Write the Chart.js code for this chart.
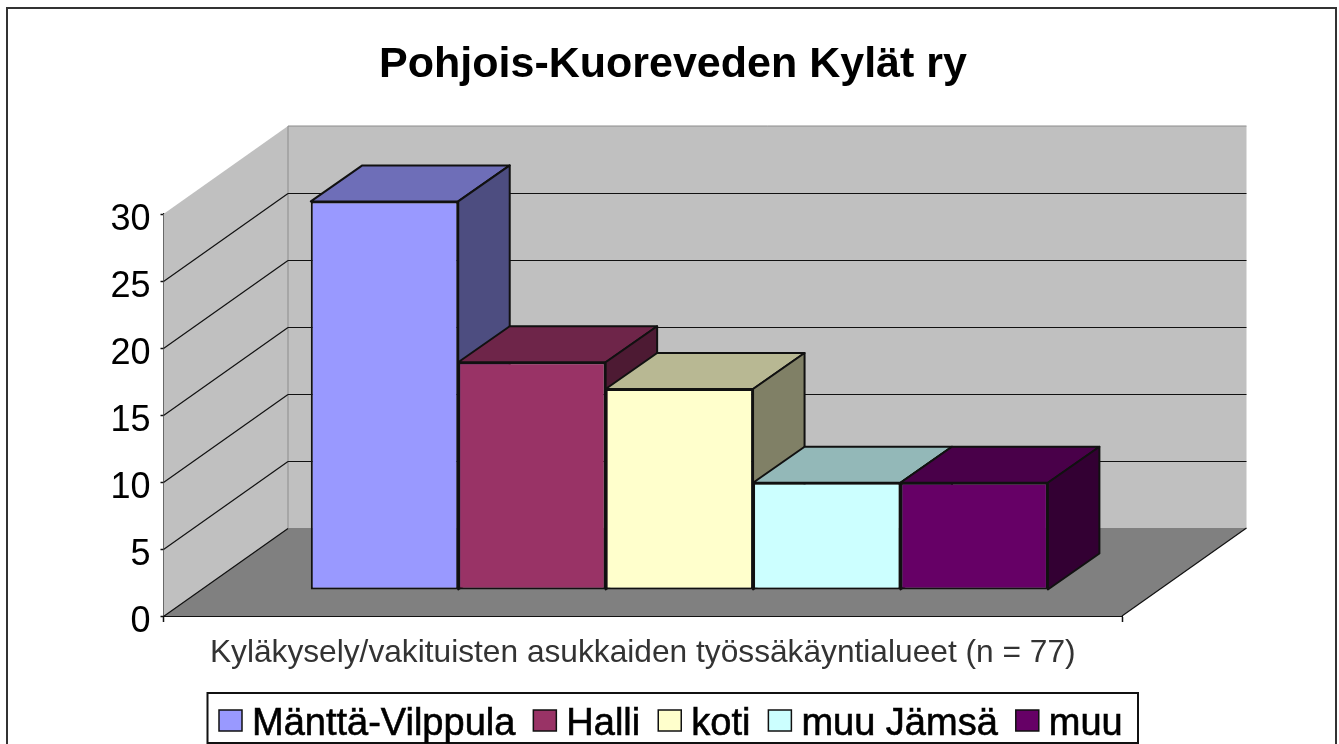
<!DOCTYPE html>
<html lang="fi">
<head>
<meta charset="utf-8">
<title>Pohjois-Kuoreveden Kylät ry</title>
<script src="https://cdn.jsdelivr.net/npm/chart.js@4"></script>
<style>
  html, body { margin: 0; padding: 0; background: #fff; }
  #wrap { position: relative; width: 1339px; height: 744px; }
</style>
</head>
<body>
<div id="wrap"><canvas id="chart"></canvas></div>
<script>
// Arvot luettu kuvasta (yhteensä 77)
const categories = ['Työssäkäyntialue'];
const seriesNames = ['Mänttä-Vilppula', 'Halli', 'koti', 'muu Jämsä', 'muu'];
const seriesValues = [29, 17, 15, 8, 8];
const seriesColors = ['#9999FF', '#993366', '#FFFFCC', '#CCFFFF', '#660066'];
const yTicks = [0, 5, 10, 15, 20, 25, 30];

const titleText = 'Pohjois-Kuoreveden Kylät ry';
const axisText = 'Kyläkysely/vakituisten asukkaiden työssäkäyntialueet (n = 77)';

// 3D-vaikutelma: takaseinän siirtymä ja pylväiden paikka syvyydessä
const DEPTH_X = 124.5, DEPTH_Y = -88;
const BAR_SHIFT_X = 36.6, BAR_SHIFT_Y = -26;
const BAR_DEPTH_X = 51.5, BAR_DEPTH_Y = -36;

function shade(hex, f) {
    const n = parseInt(hex.slice(1), 16);
    const r = Math.round((n >> 16) * f), g = Math.round(((n >> 8) & 255) * f), b = Math.round((n & 255) * f);
    return `rgb(${r},${g},${b})`;
}

function poly(ctx, pts, fill, stroke) {
    ctx.beginPath();
    pts.forEach((p, i) => i ? ctx.lineTo(p[0], p[1]) : ctx.moveTo(p[0], p[1]));
    ctx.closePath();
    if (fill) { ctx.fillStyle = fill; ctx.fill(); }
    if (stroke) { ctx.strokeStyle = stroke; ctx.lineWidth = 2; ctx.lineJoin = 'round'; ctx.stroke(); }
}

function line(ctx, x1, y1, x2, y2) {
    ctx.beginPath();
    ctx.moveTo(x1, y1);
    ctx.lineTo(x2, y2);
    ctx.stroke();
}

const box3d = {
    id: 'box3d',
    beforeDraw(chart) {
        const { ctx, width, height } = chart;
        ctx.save();
        ctx.fillStyle = '#fff';
        ctx.fillRect(0, 0, width, height);
        ctx.strokeStyle = '#333';
        ctx.lineWidth = 2;
        ctx.strokeRect(7, 8, 1329, 760);
        ctx.restore();
    },
    beforeDatasetsDraw(chart) {
        const { ctx, chartArea: a, scales: { y } } = chart;
        const top = y.getPixelForValue(30), bottom = y.getPixelForValue(0);
        const backL = a.left + DEPTH_X, backR = a.right + DEPTH_X;
        ctx.save();
        // seinät ja lattia
        poly(ctx, [[a.left, top], [backL, top + DEPTH_Y], [backL, bottom + DEPTH_Y], [a.left, bottom]], '#C0C0C0');
        poly(ctx, [[backL, top + DEPTH_Y], [backR, top + DEPTH_Y], [backR, bottom + DEPTH_Y], [backL, bottom + DEPTH_Y]], '#C0C0C0');
        poly(ctx, [[a.left, bottom], [backL, bottom + DEPTH_Y], [backR, bottom + DEPTH_Y], [a.right, bottom]], '#808080');
        ctx.strokeStyle = '#8c8c8c';
        ctx.lineWidth = 1;
        line(ctx, backL, top + DEPTH_Y, backL, bottom + DEPTH_Y);
        line(ctx, backL, top + DEPTH_Y, backR, top + DEPTH_Y);
        // apuviivat
        ctx.strokeStyle = '#111';
        ctx.lineWidth = 1.2;
        yTicks.forEach(v => {
            if (v === 30) return;
            const py = Math.round(y.getPixelForValue(v)) + 0.5;
            line(ctx, a.left, py, backL, py + DEPTH_Y);
            if (v > 0) line(ctx, backL, py + DEPTH_Y, backR, py + DEPTH_Y);
        });
        line(ctx, a.right, bottom, backR, bottom + DEPTH_Y);
        // pylväiden katot ja kyljet
        chart.data.datasets.forEach((ds, i) => {
            const bar = chart.getDatasetMeta(i).data[0];
            const l = bar.x - bar.width / 2 + BAR_SHIFT_X, r = bar.x + bar.width / 2 + BAR_SHIFT_X;
            const t = bar.y + BAR_SHIFT_Y, b = bar.base + BAR_SHIFT_Y;
            poly(ctx, [[l, t], [l + BAR_DEPTH_X, t + BAR_DEPTH_Y], [r + BAR_DEPTH_X, t + BAR_DEPTH_Y], [r, t]], shade(ds.backgroundColor, 0.72), '#111');
            poly(ctx, [[r, t], [r + BAR_DEPTH_X, t + BAR_DEPTH_Y], [r + BAR_DEPTH_X, b + BAR_DEPTH_Y], [r, b]], shade(ds.backgroundColor, 0.5), '#111');
        });
        ctx.restore();
        // etutahkot siirretään samaan syvyyteen
        ctx.save();
        ctx.translate(BAR_SHIFT_X, BAR_SHIFT_Y);
    },
    afterDatasetsDraw(chart) {
        chart.ctx.restore();
    },
    afterDraw(chart) {
        // selite kehyksineen: väli ruudun ja tekstin välillä on kapeampi kuin Chart.js:n oma
        const { ctx } = chart;
        const frameL = 207.5, frameR = 1138, frameT = 693, frameB = 743;
        ctx.save();
        ctx.strokeStyle = '#111';
        ctx.lineWidth = 2;
        ctx.strokeRect(frameL, frameT, frameR - frameL, frameB - frameT);
        ctx.font = '38px "Liberation Sans"';
        ctx.textBaseline = 'alphabetic';
        ctx.textAlign = 'left';
        let x = 219;
        seriesNames.forEach((name, i) => {
            ctx.fillStyle = seriesColors[i];
            ctx.strokeStyle = '#111';
            ctx.lineWidth = 1.5;
            ctx.fillRect(x, 710, 23, 21);
            ctx.strokeRect(x, 710, 23, 21);
            ctx.fillStyle = '#000';
            ctx.strokeStyle = '#000';
            ctx.lineWidth = 0.6;
            ctx.fillText(name, x + 33, 735);
            ctx.strokeText(name, x + 33, 735);
            x += 33 + ctx.measureText(name).width + 18;
        });
        ctx.restore();
    }
};

new Chart(document.getElementById('chart'), {
    type: 'bar',
    plugins: [box3d],
    data: {
        labels: categories,
        datasets: seriesNames.map((name, i) => ({
            label: name,
            data: [seriesValues[i]],
            backgroundColor: seriesColors[i],
            borderColor: '#111',
            borderWidth: 2,
            borderSkipped: false
        }))
    },
    options: {
        responsive: true,
        maintainAspectRatio: false,
        animation: false,
        layout: { padding: { left: 7, right: 0, top: 0, bottom: 51 } },
        datasets: { bar: { categoryPercentage: 0.769, barPercentage: 1 } },
        plugins: {
            tooltip: { enabled: false },
            legend: { display: false },
            title: {
                display: true,
                text: titleText,
                color: '#000',
                font: { family: 'Liberation Sans', size: 43, weight: 'bold' },
                padding: { top: 39, bottom: 123.4 }
            }
        },
        scales: {
            x: {
                grid: { display: true, drawOnChartArea: false, tickLength: 6, tickColor: '#111', tickWidth: 1.5 },
                border: { color: '#111', width: 2 },
                ticks: { display: false },
                title: {
                    display: true,
                    text: axisText,
                    color: '#333',
                    font: { family: 'Liberation Sans', size: 31.7 },
                    padding: { top: 0, bottom: 21 }
                },
                afterFit(s) { s.height = 77; }
            },
            y: {
                min: 0,
                max: 30,
                afterBuildTicks(s) { s.ticks = yTicks.map(v => ({ value: v })); },
                grid: { display: true, drawOnChartArea: false, tickLength: 3, tickColor: '#111', tickWidth: 1.5 },
                border: { display: true, color: '#111', width: 1.5 },
                ticks: {
                    color: '#000',
                    padding: 10,
                    labelOffset: 6,
                    font: { family: 'Liberation Sans', size: 36 }
                },
                afterFit(s) { s.width = 156.5; }
            },
            // tyhjä akseli varaa oikean reunan 3D-syvyydelle
            yRight: {
                position: 'right',
                min: 0,
                max: 30,
                grid: { display: false },
                border: { display: false },
                ticks: { display: false },
                afterFit(s) { s.width = 217; }
            }
        }
    }
});
</script>
</body>
</html>
